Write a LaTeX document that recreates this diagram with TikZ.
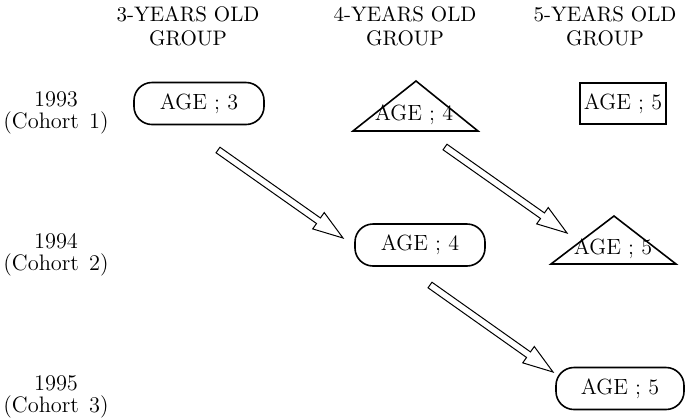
\documentclass[tikz,border=0pt]{standalone}
\usetikzlibrary{calc}
\newcommand{\hollowarr}[2]{%
  \coordinate (hb) at ($(#2)!15pt!(#1)$);
  \draw[harrow] ($(#1)!1.7pt!90:(#2)$) -- ($(hb)!1.7pt!90:(#2)$) -- ($(hb)!5pt!90:(#2)$)
    -- (#2) -- ($(hb)!5pt!-90:(#2)$) -- ($(hb)!1.7pt!-90:(#2)$) -- ($(#1)!1.7pt!-90:(#2)$) -- cycle;}
\begin{document}
\begin{tikzpicture}[x=0.5pt,y=-0.5pt,
  lbl/.style={font=\fontsize{10.5}{12}\selectfont, align=center, inner sep=0},
  rlbl/.style={font=\fontsize{11.2}{11}\selectfont, align=center, inner sep=0},
  agetxt/.style={font=\fontsize{11}{12}\selectfont, inner sep=0},
  rbox/.style={draw, line width=0.8pt, rounded corners=9pt, minimum width=65pt, minimum height=21pt, inner sep=0, agetxt},
  sbox/.style={draw, line width=0.8pt, minimum width=43pt, minimum height=20.5pt, inner sep=0, agetxt},
  tri/.style={draw, line width=0.8pt, line join=miter},
  harrow/.style={draw, line width=0.5pt, fill=white, line join=miter}]
\useasboundingbox (0,0) rectangle (686,419);
% headers
\node[lbl] (h3) at (188,26) {3-YEARS OLD\\GROUP};
\node[lbl] (h4) at (405,26) {4-YEARS OLD\\GROUP};
\node[lbl] (h5) at (605,26) {5-YEARS OLD\\GROUP};
% row labels
\node[rlbl] (r1) at (56,113) {1993\\(Cohort\hspace{0.45em}1)};
\node[rlbl] (r2) at (56,255) {1994\\(Cohort\hspace{0.45em}2)};
\node[rlbl] (r3) at (56,397) {1995\\(Cohort\hspace{0.45em}3)};
% row 1
\node[rbox] (a13) at (199,103.5) {AGE ; 3};
\coordinate (t1a) at (416,81);
\coordinate (t1l) at (353,131);
\coordinate (t1r) at (478,131);
\draw[tri] (t1l) -- (t1a) -- (t1r) -- cycle;
\node[agetxt] (a14) at (414,115) {AGE ; 4};
\node[sbox] (a15) at (623,103.5) {AGE ; 5};
% row 2
\node[rbox] (a24) at (420,245) {AGE ; 4};
\coordinate (t2a) at (614,216);
\coordinate (t2l) at (551,264);
\coordinate (t2r) at (676,264);
\draw[tri] (t2l) -- (t2a) -- (t2r) -- cycle;
\node[agetxt] (a25) at (613,249) {AGE ; 5};
% row 3
\node[rbox, minimum width=64pt] (a35) at (620,388.5) {AGE ; 5};
% arrows
\coordinate (s1) at (218,150); \coordinate (e1) at (343,238);
\coordinate (s2) at (445,147); \coordinate (e2) at (567,233);
\coordinate (s3) at (430,285); \coordinate (e3) at (553,372);
\hollowarr{s1}{e1}
\hollowarr{s2}{e2}
\hollowarr{s3}{e3}
\end{tikzpicture}
\end{document}
